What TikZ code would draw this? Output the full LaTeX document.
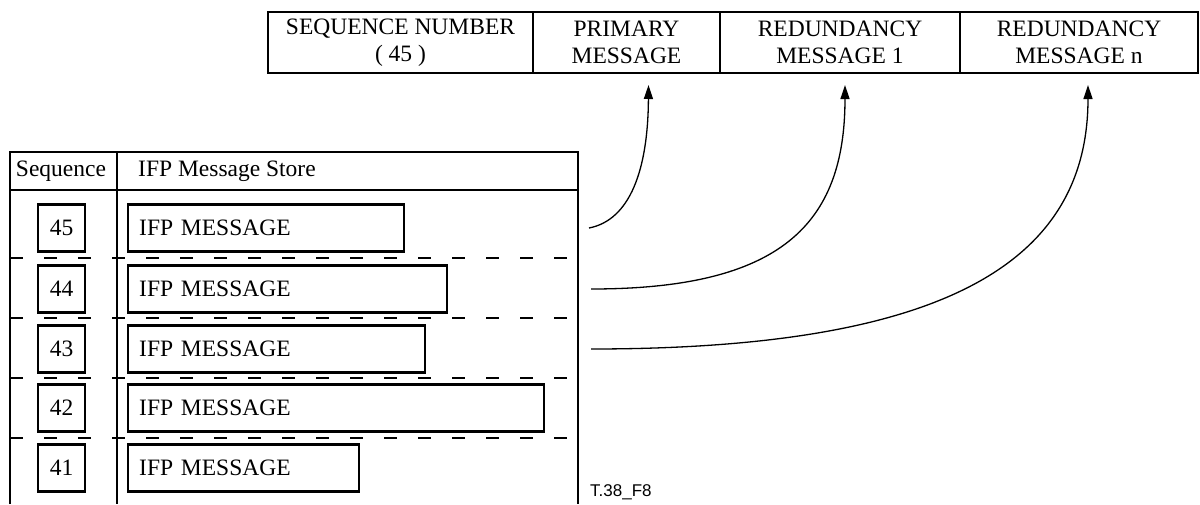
\documentclass[tikz,border=0pt]{standalone}
\usepackage{fontspec}
\setmainfont{Liberation Serif}
\newfontfamily\figlabel{Liberation Sans}
\usetikzlibrary{arrows.meta}

\begin{document}
\begin{tikzpicture}[x=1pt, y=-1pt,
    every node/.style={font=\fontsize{23.5}{27}\selectfont},
    cell/.style={draw, line width=2.4pt, minimum height=61pt, anchor=north west, align=center, inner sep=0pt, outer sep=0pt},
    seqbox/.style={draw, line width=2.4pt, minimum width=47pt, minimum height=47pt, inner sep=0pt},
    msgbox/.style={draw, line width=2.4pt, minimum height=47pt, inner xsep=11pt, inner ysep=0pt, anchor=west, align=left},
    frame/.style={line width=2.4pt},
    rowsep/.style={line width=1.4pt, dash pattern=on 13pt off 21pt},
    link/.style={line width=1.3pt, -{Triangle[length=14pt,width=9pt]}}]
    \useasboundingbox (0,0) rectangle (1200,504);

    % Define the redundant packet
    \node[cell, minimum width=265pt] (seqnum) at (268,12) {SEQUENCE NUMBER\\( 45 )};
    \node[cell, minimum width=187pt] (pm) at (seqnum.north east) {PRIMARY\\MESSAGE};
    \node[cell, minimum width=240pt] (red1) at (pm.north east) {REDUNDANCY\\MESSAGE 1};
    \node[cell, minimum width=238pt] (redn) at (red1.north east) {REDUNDANCY\\MESSAGE n};

    % Define the message store table
    \draw[frame] (10,504) |- (578,152) -- (578,504);
    \draw[frame] (10,190) -- (578,190);
    \draw[frame] (117,152) -- (117,504);
    \node (seqhead) at (61,171) {Sequence};
    \node[anchor=west, inner sep=0pt] (storehead) at (138,171) {IFP Message Store};

    \draw[rowsep] (10,258) -- (578,258);
    \draw[rowsep] (10,318) -- (578,318);
    \draw[rowsep] (10,378) -- (578,378);
    \draw[rowsep] (10,438) -- (578,438);

    \node[seqbox] (s45) at (61.5,228) {45};
    \node[seqbox] (s44) at (61.5,289) {44};
    \node[seqbox] (s43) at (61.5,349) {43};
    \node[seqbox] (s42) at (61.5,408) {42};
    \node[seqbox] (s41) at (61.5,468) {41};

    \node[msgbox, text width=254pt] (m45) at (127,228) {IFP MESSAGE};
    \node[msgbox, text width=297pt] (m44) at (127,289) {IFP MESSAGE};
    \node[msgbox, text width=275pt] (m43) at (127,349) {IFP MESSAGE};
    \node[msgbox, text width=394pt] (m42) at (127,408) {IFP MESSAGE};
    \node[msgbox, text width=209pt] (m41) at (127,468) {IFP MESSAGE};

    % Draw links into the packet
    \coordinate (f45) at (589,228);
    \coordinate (f44) at (591,289);
    \coordinate (f43) at (591,349);
    \draw[link] (f45) .. controls (630,220) and (648,170) .. ([shift={(22,12)}]pm.south);
    \draw[link] (f44) .. controls (780,289) and (845,225) .. ([shift={(5,12)}]red1.south);
    \draw[link] (f43) .. controls (940,349) and (1088,265) .. ([shift={(9,12)}]redn.south);

    \node[anchor=west, inner sep=0pt, font=\figlabel\fontsize{17}{19}\selectfont] (figid) at (590,492) {T.38\_F8};
\end{tikzpicture}
\end{document}
